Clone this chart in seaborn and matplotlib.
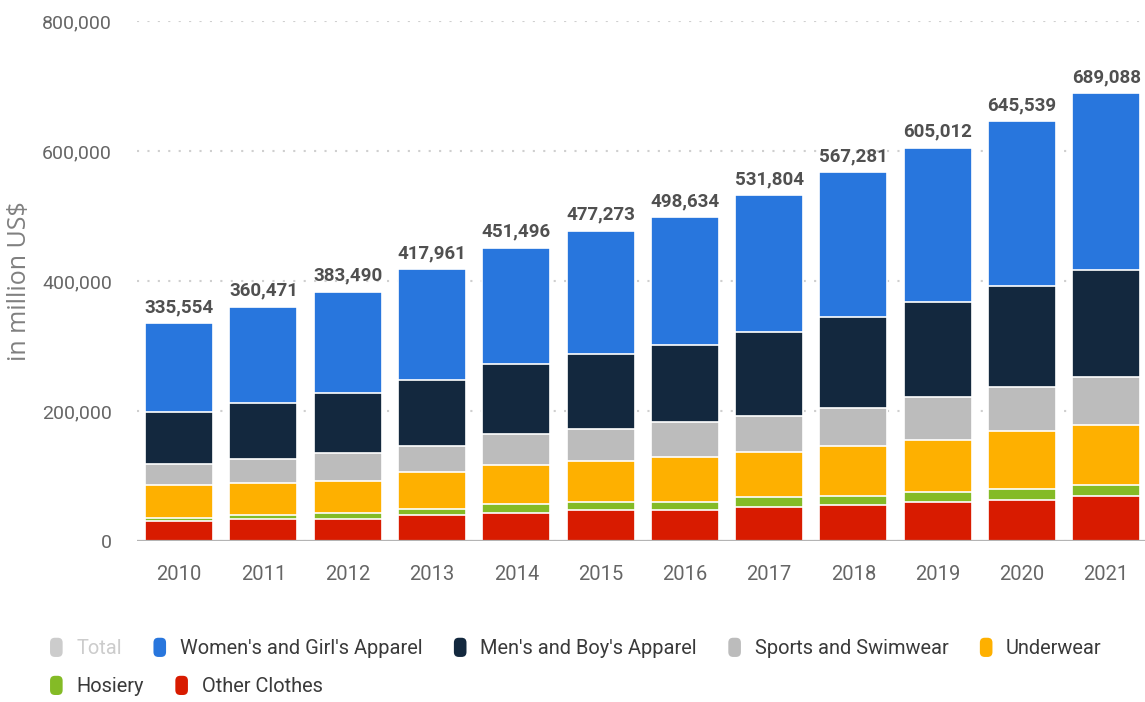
import numpy as np
import matplotlib
matplotlib.use("Agg")
import matplotlib.pyplot as plt
import seaborn as sns
from matplotlib import font_manager
from matplotlib.patches import Patch, FancyBboxPatch
from matplotlib.legend_handler import HandlerPatch
from matplotlib.ticker import FuncFormatter

# Data (million US$)
years = ["2010", "2011", "2012", "2013", "2014", "2015",
         "2016", "2017", "2018", "2019", "2020", "2021"]
totals = [335554, 360471, 383490, 417961, 451496, 477273,
          498634, 531804, 567281, 605012, 645539, 689088]

other_clothes = [31000, 34000, 34000, 40000, 43000, 47000, 47000, 53000, 56000, 60000, 63000, 70000]
hosiery = [4500, 6000, 9000, 10000, 14000, 13000, 13000, 14000, 13000, 16000, 17000, 16000]
underwear = [50000, 50000, 49000, 56000, 60000, 63000, 70000, 70000, 77000, 79000, 90000, 93000]
sports_swim = [33000, 36000, 44000, 40000, 47000, 50000, 53000, 56000, 59000, 67000, 67000, 73000]
mens_apparel = [80000, 86000, 92000, 102000, 109000, 115000, 119000, 129000, 140000, 146000, 155000, 165000]
womens_apparel = [137000, 148500, 155500, 170000, 178500, 189300, 196600, 209800, 222300, 237000, 253500, 272000]

series_names = ["Other Clothes", "Hosiery", "Underwear", "Sports and Swimwear",
                "Men's and Boy's Apparel", "Women's and Girl's Apparel"]
series_colors = ["#d81b00", "#84bb26", "#feb000", "#bcbcbc", "#13283e", "#2876dd"]

sns.set_style("white")
installed = {f.name for f in font_manager.fontManager.ttflist}
narrow = next((f for f in ["Liberation Sans Narrow", "DejaVu Sans Condensed", "Roboto"]
               if f in installed), "DejaVu Sans")
plt.rcParams["font.family"] = [narrow, "DejaVu Sans"]

fig = plt.figure(figsize=(11.45, 7.02), dpi=100)
ax = fig.add_axes([0.1197, 0.2293, 0.8803, 0.7408])

# stacked bars: draw cumulative heights from the top layer down
layers = np.array([other_clothes, hosiery, underwear, sports_swim, mens_apparel, womens_apparel])
cum = np.cumsum(layers, axis=0)
for k in range(len(layers) - 1, -1, -1):
    sns.barplot(x=years, y=cum[k], color=series_colors[k], saturation=1,
                width=0.807, edgecolor="white", linewidth=1.2, ax=ax)

ax.bar_label(ax.containers[0], labels=[f"{t:,}" for t in totals], padding=5,
             fontsize=13.5, fontweight="bold", color="#505050")

ax.set_xlim(-0.5, 11.46)
ax.set_ylim(0, 800000)
ax.set_yticks([0, 200000, 400000, 600000, 800000])
ax.yaxis.set_major_formatter(FuncFormatter(lambda v, p: f"{int(v):,}"))
ax.yaxis.grid(True, linestyle=(0, (1, 4)), color="#cfcfcf", linewidth=1.5)
ax.set_axisbelow(True)
ax.axhline(0, color="#b4b4b4", linewidth=1.6, zorder=5)
sns.despine(ax=ax, left=True, bottom=True)

ax.tick_params(axis="y", length=0, pad=18, labelsize=14, labelcolor="#666666")
ax.tick_params(axis="x", length=0, pad=17, labelsize=14.5, labelcolor="#666666")
ax.set_xlabel("")
ax.set_ylabel("in million US$", fontsize=18, color="#808080",
              family=["Open Sans", "DejaVu Sans"])
ax.yaxis.set_label_coords(-0.104, 0.5)

# legend, two rows laid out like the original
def rounded_patch(legend, orig_handle, xdescent, ydescent, width, height, fontsize):
    return FancyBboxPatch((-xdescent, -ydescent), width, height,
                          boxstyle="round,pad=0,rounding_size=3.5")

hmap = {Patch: HandlerPatch(patch_func=rounded_patch)}
row1 = [("Total", "#cccccc"), (series_names[5], series_colors[5]), (series_names[4], series_colors[4]),
        (series_names[3], series_colors[3]), (series_names[2], series_colors[2])]
row2 = [(series_names[1], series_colors[1]), (series_names[0], series_colors[0])]

leg_kw = dict(loc="center left", frameon=False, fontsize=14.4, handlelength=0.63,
              handleheight=1.1, handletextpad=0.68, columnspacing=1.58,
              borderpad=0, borderaxespad=0, handler_map=hmap, labelcolor="#3a3a3a")
for row, ypos in [(row1, 0.0770), (row2, 0.0228)]:
    handles = [Patch(facecolor=c, edgecolor="none") for _, c in row]
    leg = fig.legend(handles, [n for n, _ in row], ncol=len(row),
                     bbox_to_anchor=(0.0437, ypos), **leg_kw)
    if row is row1:
        leg.get_texts()[0].set_color("#cccccc")

fig.savefig("out.png", dpi=100)
